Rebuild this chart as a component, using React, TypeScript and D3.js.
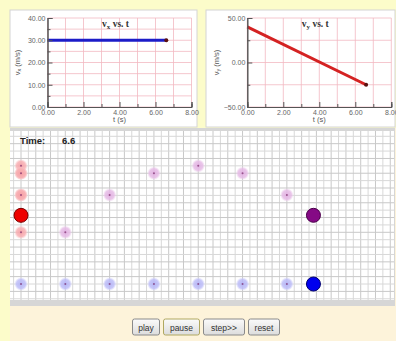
import * as d3 from "d3";
import { useEffect, useRef } from "react";

// graph series
const vxTimes = [0, 6.6];
const vxValues = [30, 30];
const vyTimes = [0, 6.6];
const vyValues = [40, -25];

// strobe positions, one ghost per second
const ghostTimes = [0, 1, 2, 3, 4, 5, 6];
const ghostX = [0, 30, 60, 90, 120, 150, 180];
const ghostY = [0, 35, 60.3, 75, 80, 75, 60.3];
const currentTime = 6.6;
const currentX = 198;
const currentY = 46.5;

const buttons = ["play", "pause", "step>>", "reset"];

const W = 396;
const H = 341;

function YAxis({ scale, x, major, minor }) {
  const ref = useRef(null);
  useEffect(() => {
    if (!ref.current) return;
    const g = d3.select(ref.current);
    g.selectAll("*").remove();
    g.append("g").call(d3.axisLeft(scale).tickValues(minor).tickSize(-3).tickFormat(() => ""));
    g.append("g").call(
      d3.axisLeft(scale).tickValues(major).tickSize(-5).tickPadding(2).tickFormat(d3.format(".2f"))
    );
    g.selectAll("path.domain").attr("stroke", "#555");
    g.selectAll("line").attr("stroke", "#555");
    g.selectAll("text").attr("fill", "#666").attr("font-size", 7).attr("font-family", "Liberation Sans, Arial");
  }, [scale]);
  return <g ref={ref} transform={`translate(${x},0)`} />;
}

function XAxis({ scale, y }) {
  const ref = useRef(null);
  useEffect(() => {
    if (!ref.current) return;
    const g = d3.select(ref.current);
    g.selectAll("*").remove();
    g.append("g").call(d3.axisBottom(scale).tickValues([1, 3, 5, 7]).tickSize(-3).tickFormat(() => ""));
    g.append("g").call(
      d3.axisBottom(scale).tickValues([0, 2, 4, 6, 8]).tickSize(-5).tickPadding(3).tickFormat(d3.format(".2f"))
    );
    g.selectAll("path.domain").attr("stroke", "#555");
    g.selectAll("line").attr("stroke", "#555");
    g.selectAll("text").attr("fill", "#666").attr("font-size", 7).attr("font-family", "Liberation Sans, Arial");
  }, [scale]);
  return <g ref={ref} transform={`translate(0,${y})`} />;
}

function Graph({ left, cardX, cardW, yDomain, yMajor, yMinor, times, values, color, sub }) {
  const top = 18;
  const bottom = 107;
  const right = left + 144;
  const x = d3.scaleLinear().domain([0, 8]).range([left, right]);
  const y = d3.scaleLinear().domain(yDomain).range([bottom, top]);
  const line = d3.line<number>().x((_, i) => x(times[i])).y((v) => y(v));
  const vTicks = d3.range(0, 9);
  const hTicks = yMinor.concat(yMajor);
  return (
    <g>
      <rect x={cardX} y={10} width={cardW} height={117} fill="#fff" stroke="#d4d4d4" />
      {vTicks.map((t) => (
        <line key={`v${t}`} x1={x(t)} x2={x(t)} y1={top} y2={bottom} stroke="#f3b9c2" strokeWidth={0.8} />
      ))}
      {hTicks.map((t) => (
        <line key={`h${t}`} x1={left} x2={right} y1={y(t)} y2={y(t)} stroke="#f3b9c2" strokeWidth={0.8} />
      ))}
      <text x={left + 68} y={27} fontSize={9.5} fontWeight="bold" fontFamily="Liberation Serif, serif" fill="#333" textAnchor="middle">
        v<tspan fontSize={7} dy={2}>{sub}</tspan>
        <tspan dy={-2}> vs. t</tspan>
      </text>
      <path d={line(values) || ""} fill="none" stroke={color} strokeWidth={3} />
      <circle cx={x(times[times.length - 1])} cy={y(values[values.length - 1])} r={2} fill="#5a1010" />
      <YAxis scale={y} x={left} major={yMajor} minor={yMinor} />
      <XAxis scale={x} y={bottom} />
      <text x={(left + right) / 2} y={122} fontSize={7.5} fill="#555" textAnchor="middle" fontFamily="Liberation Sans, Arial">
        t (s)
      </text>
      <text
        transform={`translate(${left - 28},${(top + bottom) / 2}) rotate(-90)`}
        fontSize={7.5}
        fill="#555"
        textAnchor="middle"
        fontFamily="Liberation Sans, Arial"
      >
        v<tspan fontSize={5.5} dy={1}>{sub}</tspan>
        <tspan dy={-1}> (m/s)</tspan>
      </text>
    </g>
  );
}

function Ghost({ cx, cy, id }) {
  return (
    <g>
      <circle cx={cx} cy={cy} r={6.5} fill={`url(#${id})`} />
      <circle cx={cx} cy={cy} r={1} fill="#7a2a6a" opacity={0.7} />
    </g>
  );
}

export default function App() {
  // world coordinates of the strobe panel, metres
  const sx = d3.scaleLinear().domain([0, 100]).range([21, 21 + 147.7]);
  const sy = d3.scaleLinear().domain([0, 100]).range([284, 284 - 147.7]);
  const gridX = d3.range(-5, 260, 5).map(sx).filter((v) => v >= 10 && v <= 394);
  const gridY = d3.range(-10, 110, 5).map(sy).filter((v) => v >= 131 && v <= 300);

  const btnWidths = [27, 36, 41, 31];
  const gap = 4;
  const total = d3.sum(btnWidths) + gap * (btnWidths.length - 1);
  let bx = 206 - total / 2;
  const btnX = btnWidths.map((w) => {
    const v = bx;
    bx += w + gap;
    return v;
  });

  return (
    <svg width={W} height={H} style={{ position: "absolute", left: 0, top: 0 }}>
      <defs>
        <radialGradient id="gRed">
          <stop offset="0%" stopColor="#f7a0a6" stopOpacity={0.95} />
          <stop offset="70%" stopColor="#f8b0b4" stopOpacity={0.85} />
          <stop offset="100%" stopColor="#fbd0d2" stopOpacity={0.25} />
        </radialGradient>
        <radialGradient id="gPurple">
          <stop offset="0%" stopColor="#e2b0e2" stopOpacity={0.95} />
          <stop offset="70%" stopColor="#e6bce6" stopOpacity={0.85} />
          <stop offset="100%" stopColor="#f0d8f0" stopOpacity={0.25} />
        </radialGradient>
        <radialGradient id="gBlue">
          <stop offset="0%" stopColor="#b4b4f6" stopOpacity={0.95} />
          <stop offset="70%" stopColor="#bebef8" stopOpacity={0.85} />
          <stop offset="100%" stopColor="#d8d8fb" stopOpacity={0.25} />
        </radialGradient>
        <linearGradient id="btn" x1="0" x2="0" y1="0" y2="1">
          <stop offset="0%" stopColor="#fbfbfb" />
          <stop offset="100%" stopColor="#dcdcdc" />
        </linearGradient>
      </defs>

      <rect width={W} height={H} fill="#fcfcca" />
      <rect x={10} y={128} width={W - 10} height={H - 128} fill="#fdf3da" />

      <Graph left={47.5} cardX={10} cardW={187} yDomain={[0, 40]} yMajor={[0, 10, 20, 30, 40]} yMinor={[5, 15, 25, 35]} times={vxTimes} values={vxValues} color="#1c1cc8" sub="x" />
      <Graph left={247.3} cardX={206} cardW={189} yDomain={[-50, 50]} yMajor={[-50, 0, 50]} yMinor={[-25, 25]} times={vyTimes} values={vyValues} color="#d42222" sub="y" />

      {/* strobe panel */}
      <rect x={10} y={128} width={385} height={178} fill="#d6d6d6" />
      <rect x={10} y={131} width={384} height={169} fill="#fff" />
      {gridX.map((v, i) => (
        <line key={`gx${i}`} x1={v} x2={v} y1={131} y2={300} stroke={i % 2 ? "#c8c8c8" : "#d8d8d8"} strokeWidth={1} />
      ))}
      {gridY.map((v, i) => (
        <line key={`gy${i}`} x1={10} x2={394} y1={v} y2={v} stroke={i % 2 ? "#c8c8c8" : "#d8d8d8"} strokeWidth={1} />
      ))}
      <text x={20} y={144} fontSize={9.5} fontWeight="bold" fontFamily="Liberation Sans, Arial" fill="#222">
        Time:
      </text>
      <text x={62} y={144} fontSize={9.5} fontWeight="bold" fontFamily="Liberation Sans, Arial" fill="#222">
        {currentTime.toFixed(1)}
      </text>

      {ghostTimes.slice(1).map((t, i) => (
        <Ghost key={`r${t}`} cx={sx(0)} cy={sy(ghostY[i + 1])} id="gRed" />
      ))}
      {ghostTimes.slice(1).map((t, i) => (
        <Ghost key={`p${t}`} cx={sx(ghostX[i + 1])} cy={sy(ghostY[i + 1])} id="gPurple" />
      ))}
      {ghostTimes.map((t, i) => (
        <Ghost key={`b${t}`} cx={sx(ghostX[i])} cy={sy(0)} id="gBlue" />
      ))}

      <circle cx={sx(0)} cy={sy(currentY)} r={7} fill="#ee0000" stroke="#700" strokeWidth={1} />
      <circle cx={sx(currentX)} cy={sy(currentY)} r={7} fill="#850a85" stroke="#4a004a" strokeWidth={1} />
      <circle cx={sx(currentX)} cy={sy(0)} r={7} fill="#0000ee" stroke="#000070" strokeWidth={1} />

      {buttons.map((b, i) => (
        <g key={b}>
          <rect x={btnX[i]} y={319} width={btnWidths[i]} height={16} rx={2} fill="url(#btn)" stroke={b === "pause" ? "#b0a860" : "#8a8a8a"} />
          <text x={btnX[i] + btnWidths[i] / 2} y={330.5} fontSize={8.5} textAnchor="middle" fontFamily="Liberation Sans, Arial" fill="#333">
            {b}
          </text>
        </g>
      ))}
    </svg>
  );
}
